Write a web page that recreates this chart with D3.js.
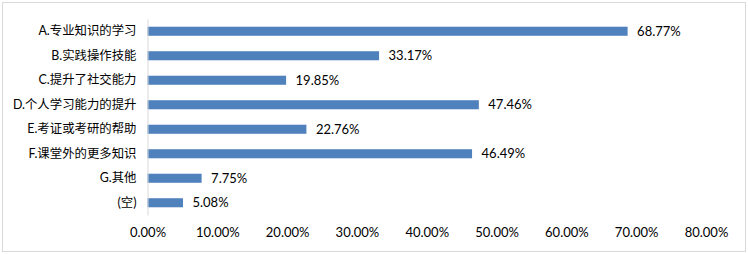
<!DOCTYPE html>
<html>
<head>
<meta charset="utf-8">
<script src="https://cdn.jsdelivr.net/npm/d3@7"></script>
<style>
  html, body { margin: 0; padding: 0; background: #fff; }
  svg { display: block; }
</style>
</head>
<body>
<div id="chart"></div>
<script>
// Data
const CATEGORIES = [
  "A.专业知识的学习",
  "B.实践操作技能",
  "C.提升了社交能力",
  "D.个人学习能力的提升",
  "E.考证或考研的帮助",
  "F.课堂外的更多知识",
  "G.其他",
  "(空)"
];
const VALUES = [68.77, 33.17, 19.85, 47.46, 22.76, 46.49, 7.75, 5.08];
const X_TICKS = [0, 10, 20, 30, 40, 50, 60, 70, 80];

const W = 748, H = 254;
const margin = { top: 19, right: 42, bottom: 39, left: 147.5 };
const FONT = "Lato, 'Noto Sans CJK SC', sans-serif";

const svg = d3.select("#chart").append("svg")
  .attr("width", W)
  .attr("height", H);

// frame
svg.append("rect")
  .attr("x", 2.5).attr("y", 2.5)
  .attr("width", W - 5).attr("height", H - 5)
  .attr("fill", "#fff")
  .attr("stroke", "#d9d9d9");

const x = d3.scaleLinear()
  .domain([0, 80])
  .range([margin.left, W - margin.right]);

const y = d3.scaleBand()
  .domain(CATEGORIES)
  .range([margin.top, H - margin.bottom])
  .paddingInner(0.63)
  .paddingOuter(0.315);

// bars
svg.append("g").selectAll("rect")
  .data(VALUES)
  .join("rect")
  .attr("x", x(0))
  .attr("y", (d, i) => y(CATEGORIES[i]))
  .attr("width", d => x(d) - x(0))
  .attr("height", y.bandwidth())
  .attr("fill", "#4f81bd");

// value labels
svg.append("g").selectAll("text")
  .data(VALUES)
  .join("text")
  .attr("x", d => x(d) + 9.5)
  .attr("y", (d, i) => y(CATEGORIES[i]) + y.bandwidth() / 2)
  .attr("dy", "0.36em")
  .attr("font-family", FONT)
  .attr("font-size", 13)
  .attr("fill", "#000")
  .text(d => d.toFixed(2) + "%");

// y axis
const yAxis = svg.append("g")
  .attr("transform", `translate(${x(0)},0)`)
  .call(d3.axisLeft(y).tickSize(0).tickPadding(11));
yAxis.select(".domain").attr("stroke", "#d9d9d9");
yAxis.selectAll("text")
  .attr("font-family", FONT)
  .attr("font-size", 12.4)
  .attr("fill", "#000");

// x axis (labels only)
const xAxis = svg.append("g")
  .attr("transform", `translate(0,${H - margin.bottom})`)
  .call(d3.axisBottom(x).tickValues(X_TICKS).tickSize(0).tickPadding(13)
    .tickFormat(d => d.toFixed(2) + "%"));
xAxis.select(".domain").remove();
xAxis.selectAll("text")
  .attr("font-family", FONT)
  .attr("font-size", 13)
  .attr("fill", "#000");
</script>
</body>
</html>
